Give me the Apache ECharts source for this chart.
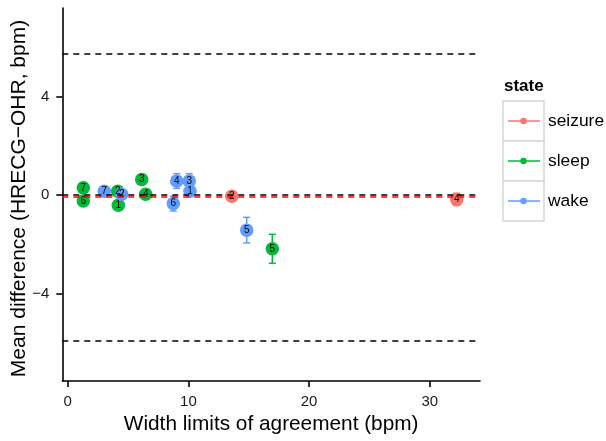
<!DOCTYPE html>
<html><head><meta charset="utf-8">
<script src="https://cdn.jsdelivr.net/npm/echarts@6/dist/echarts.min.js"></script>
<style>html,body{margin:0;padding:0;background:#fff}#c{width:606px;height:441px}</style>
</head><body><div id="c"></div>
<script>
const states = ['seizure', 'sleep', 'wake'];
const colors = ['#F8766D', '#00BA38', '#619CFF'];
const seizureX = [13.59, 32.23];
const seizureY = [-0.04, -0.17];
const seizureErr = [0.12, 0.25];
const seizureLab = ['2', '4'];
const sleepX = [4.19, 4.14, 6.13, 6.46, 16.95, 1.29, 1.29];
const sleepY = [-0.41, 0.16, 0.64, 0.04, -2.18, -0.23, 0.30];
const sleepErr = [0.12, 0.12, 0.12, 0.12, 0.59, 0.12, 0.12];
const sleepLab = ['1', '2', '3', '4', '5', '6', '7'];
const wakeX = [10.13, 4.47, 10.07, 9.03, 14.83, 8.75, 3.03];
const wakeY = [0.16, 0.04, 0.58, 0.58, -1.42, -0.34, 0.16];
const wakeErr = [0.12, 0.12, 0.3, 0.3, 0.52, 0.3, 0.12];
const wakeLab = ['1', '2', '3', '4', '5', '6', '7'];
const hLinesBlack = [0.02, 5.77, -5.93];
const hLineRed = [-0.08];
const xTicks = [0, 10, 20, 30];
const yTicks = [-4, 0, 4];
const xRange = [-0.45, 34.16];
const yRange = [-7.56, 7.62];

const groups = [
  {x: seizureX, y: seizureY, e: seizureErr, l: seizureLab},
  {x: sleepX, y: sleepY, e: sleepErr, l: sleepLab},
  {x: wakeX, y: wakeY, e: wakeErr, l: wakeLab}
];
const FONT = 'Liberation Sans, Arial, sans-serif';

const series = [];
series.push({
  type: 'line', data: [], silent: true,
  markLine: {
    symbol: 'none', silent: true, label: {show: false},
    data: hLinesBlack.map(v => ({yAxis: v, lineStyle: {color: '#000', type: [6, 5], width: 1.5}}))
      .concat(hLineRed.map(v => ({yAxis: v, lineStyle: {color: '#FF0000', type: [6, 5], width: 1.5}})))
  }
});
groups.forEach((g, i) => {
  series.push({
    type: 'custom', name: states[i] + '_err', silent: true, z: 3,
    data: g.x.map((x, k) => [x, g.y[k] - g.e[k], g.y[k] + g.e[k]]),
    renderItem: (params, api) => {
      const lo = api.coord([api.value(0), api.value(1)]);
      const hi = api.coord([api.value(0), api.value(2)]);
      const w = 3.5;
      const st = {stroke: colors[i], lineWidth: 1.5};
      return {type: 'group', children: [
        {type: 'line', shape: {x1: lo[0], y1: lo[1], x2: hi[0], y2: hi[1]}, style: st},
        {type: 'line', shape: {x1: lo[0] - w, y1: lo[1], x2: lo[0] + w, y2: lo[1]}, style: st},
        {type: 'line', shape: {x1: hi[0] - w, y1: hi[1], x2: hi[0] + w, y2: hi[1]}, style: st}
      ]};
    }
  });
});
groups.forEach((g, i) => {
  series.push({
    type: 'scatter', name: states[i], z: 4,
    symbol: 'circle', symbolSize: 13.5,
    itemStyle: {color: colors[i], opacity: 1},
    data: g.x.map((x, k) => [x, g.y[k], g.l[k]]),
    label: {show: true, position: 'inside', formatter: p => p.value[2], color: '#000', fontSize: 10, fontFamily: FONT}
  });
});

const chart = echarts.init(document.getElementById('c'), null, {renderer: 'canvas'});
const axisText = {color: '#1a1a1a', fontSize: 15, fontFamily: FONT, formatter: v => String(v).replace('-', '\u2212')};
const legendItems = [];
const lx = 503, ly = 101, kh = 40, kw = 41;
states.forEach((s, i) => {
  const y0 = ly + i * kh;
  legendItems.push({type: 'rect', shape: {x: lx, y: y0, width: kw, height: kh}, style: {fill: '#fff', stroke: '#d6d6d6', lineWidth: 1.5}});
  legendItems.push({type: 'line', shape: {x1: lx + 5, y1: y0 + kh / 2, x2: lx + kw - 4, y2: y0 + kh / 2}, style: {stroke: colors[i], lineWidth: 1.5}});
  legendItems.push({type: 'circle', shape: {cx: lx + kw / 2, cy: y0 + kh / 2, r: 3.2}, style: {fill: colors[i]}});
  legendItems.push({type: 'text', x: 548, y: y0 + kh / 2, style: {text: s, fill: '#000', font: '17.4px ' + FONT, verticalAlign: 'middle', align: 'left'}});
});
legendItems.push({type: 'text', x: 504, y: 86, style: {text: 'state', fill: '#000', font: 'bold 17px ' + FONT, verticalAlign: 'middle', align: 'left'}});

chart.setOption({
  animation: false,
  backgroundColor: '#fff',
  grid: {left: 62.3, right: 126, top: 8, bottom: 60, containLabel: false, outerBoundsMode: 'none'},
  xAxis: {
    type: 'value', min: xRange[0], max: xRange[1],
    name: 'Width limits of agreement (bpm)', nameLocation: 'middle', nameGap: 33, nameMoveOverlap: false,
    nameTextStyle: {color: '#000', fontSize: 20.8, fontFamily: FONT},
    axisLine: {show: true, onZero: false, lineStyle: {color: '#000', width: 1.6}},
    axisTick: {show: true, customValues: xTicks, length: 6, lineStyle: {color: '#000', width: 1.6}},
    axisLabel: Object.assign({customValues: xTicks, margin: 13}, axisText),
    splitLine: {show: false}
  },
  yAxis: {
    type: 'value', min: yRange[0], max: yRange[1],
    name: 'Mean difference (HRECG\u2212OHR, bpm)', nameLocation: 'middle', nameGap: 33, nameMoveOverlap: false,
    nameTextStyle: {color: '#000', fontSize: 21, fontFamily: FONT, padding: [0, 8, 0, 0]},
    axisLine: {show: true, onZero: false, lineStyle: {color: '#000', width: 1.6}},
    axisTick: {show: true, customValues: yTicks, length: 6, lineStyle: {color: '#000', width: 1.6}},
    axisLabel: Object.assign({customValues: yTicks, margin: 13}, axisText),
    splitLine: {show: false}
  },
  graphic: legendItems,
  series: series
});
</script></body></html>
